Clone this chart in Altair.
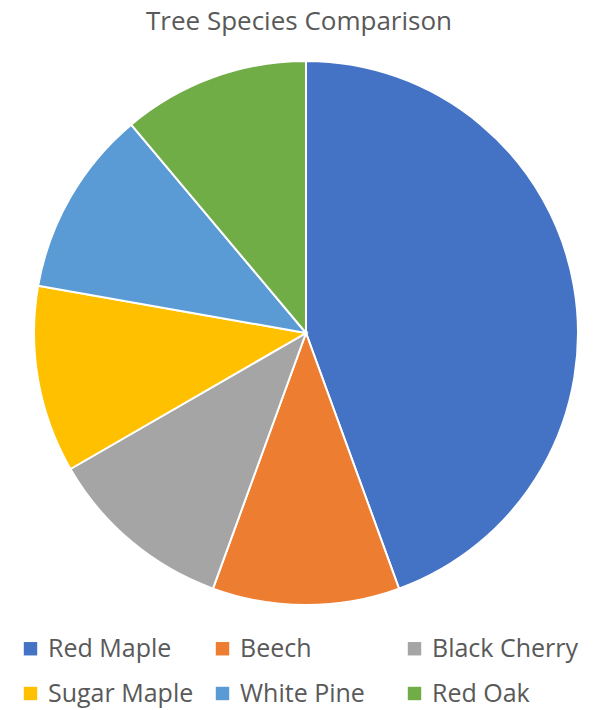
import altair as alt
import pandas as pd

species = ["Red Maple", "Beech", "Black Cherry", "Sugar Maple", "White Pine", "Red Oak"]
counts = [4, 1, 1, 1, 1, 1]
colors = ["#4472C4", "#ED7D31", "#A5A5A5", "#FFC000", "#5B9BD5", "#70AD47"]

df = pd.DataFrame({"species": species, "count": counts, "order": list(range(len(species)))})

FONT = "Open Sans"
TOP = 45

chart = alt.Chart(df).mark_arc(outerRadius=272, stroke="white", strokeWidth=2).encode(
    theta=alt.Theta("count:Q", stack=True),
    order=alt.Order("order:Q", sort="ascending"),
    color=alt.Color(
        "species:N",
        scale=alt.Scale(domain=species, range=colors),
        sort=species,
        legend=alt.Legend(
            title=None,
            orient="none",
            legendX=18,
            legendY=591,
            direction="horizontal",
            columns=3,
            gridAlign="all",
            symbolType="square",
            symbolSize=180,
            symbolStrokeWidth=0,
            labelFont=FONT,
            labelFontSize=25,
            labelColor="#595959",
            labelOffset=5,
            rowPadding=19,
            columnPadding=15,
        ),
    ),
    x=alt.value(306),
    y=alt.value(333 - TOP),
).properties(
    width=598,
    height=710 - TOP,
    padding={"top": TOP, "left": 0, "right": 0, "bottom": 0},
    autosize=alt.AutoSizeParams(type="none"),
    title=alt.TitleParams(
        "Tree Species Comparison",
        font=FONT,
        fontSize=26,
        fontWeight="normal",
        color="#595959",
        anchor="middle",
        offset=10,
    ),
).configure_view(stroke=None)

chart.save("out.html", embed_options={"renderer": "svg", "actions": False})
